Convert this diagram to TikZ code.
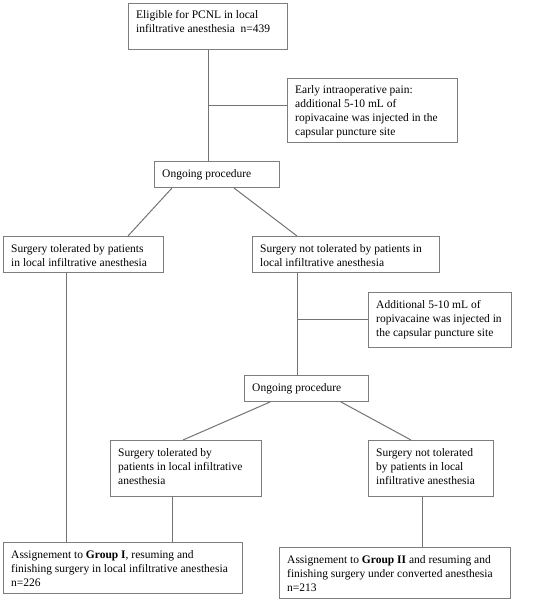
\documentclass[tikz,border=0pt]{standalone}
\usepackage{fontspec}
\setmainfont{Liberation Serif}
\begin{document}
\begin{tikzpicture}[x=1pt,y=-1pt,
  box/.style={draw=boxgray,line width=1pt,rectangle,inner sep=0pt,anchor=north west},
  txt/.style={anchor=base west,inner sep=0pt,font=\fontsize{11.5}{14}\selectfont},
  conn/.style={draw=linegray,line width=1pt}]
\definecolor{boxgray}{RGB}{125,125,125}
\definecolor{linegray}{RGB}{115,115,115}
\useasboundingbox (0,0) rectangle (551,604);
\newcommand{\bx}[6]{% name, x1,y1,x2,y2, text
  \node[box,minimum width={#4-#2},minimum height={#5-#3}] (#1) at (#2,#3) {};
  \node[txt] (#1t) at ({#2+8},{#3+16}) {\begin{tabular}[t]{@{}l@{}}#6\end{tabular}};}
\bx{b1}{128}{3}{287}{49}{Eligible for PCNL in local\\infiltrative anesthesia\ \ n=439}
\bx{b2}{287}{78}{457}{142}{Early intraoperative pain:\\additional 5-10 mL of\\ropivacaine was injected in the\\capsular puncture site}
\bx{o1}{154}{161}{279}{187}{Ongoing procedure}
\bx{b3}{3}{236}{163}{272}{Surgery tolerated by patients\\in local infiltrative anesthesia}
\bx{b4}{252}{236}{439}{272}{Surgery not tolerated by patients in\\local infiltrative anesthesia}
\bx{b5}{368}{292}{511}{347}{Additional 5-10 mL of\\ropivacaine was injected in\\the capsular puncture site}
\bx{o2}{244}{375}{368}{401}{Ongoing procedure}
\bx{b6}{110}{440}{261}{496}{Surgery tolerated by\\patients in local infiltrative\\anesthesia}
\bx{b7}{368}{440}{493}{496}{Surgery not tolerated\\by patients in local\\infiltrative anesthesia}
\bx{b8}{3}{542}{242}{593}{Assignement to \textbf{Group I}, resuming and\\finishing surgery in local infiltrative anesthesia\\n=226}
\bx{b9}{279}{547}{510}{598}{Assignement to \textbf{Group II} and resuming and\\finishing surgery under converted anesthesia\\n=213}
% connectors
\coordinate (j1) at (208,106);
\coordinate (j2) at (297,319);
\draw[conn] (b1.south -| j1) -- (o1.north -| j1);
\draw[conn] (j1) -- (b2.west |- j1);
\draw[conn] ([xshift=18pt]o1.south west) -- ([xshift=125pt]b3.north west);
\draw[conn] ([xshift=80pt]o1.south west) -- ([xshift=45pt]b4.north west);
\draw[conn] (b4.south -| j2) -- (o2.north -| j2);
\draw[conn] (j2) -- (b5.west |- j2);
\draw[conn] ([xshift=26pt]o2.south west) -- ([xshift=73pt]b6.north west);
\draw[conn] ([xshift=97pt]o2.south west) -- ([xshift=43pt]b7.north west);
\coordinate (k1) at (66,0);
\coordinate (k2) at (172,0);
\coordinate (k3) at (422,0);
\draw[conn] (b3.south -| k1) -- (b8.north -| k1);
\draw[conn] (b6.south -| k2) -- (b8.north -| k2);
\draw[conn] (b7.south -| k3) -- (b9.north -| k3);
\end{tikzpicture}
\end{document}
